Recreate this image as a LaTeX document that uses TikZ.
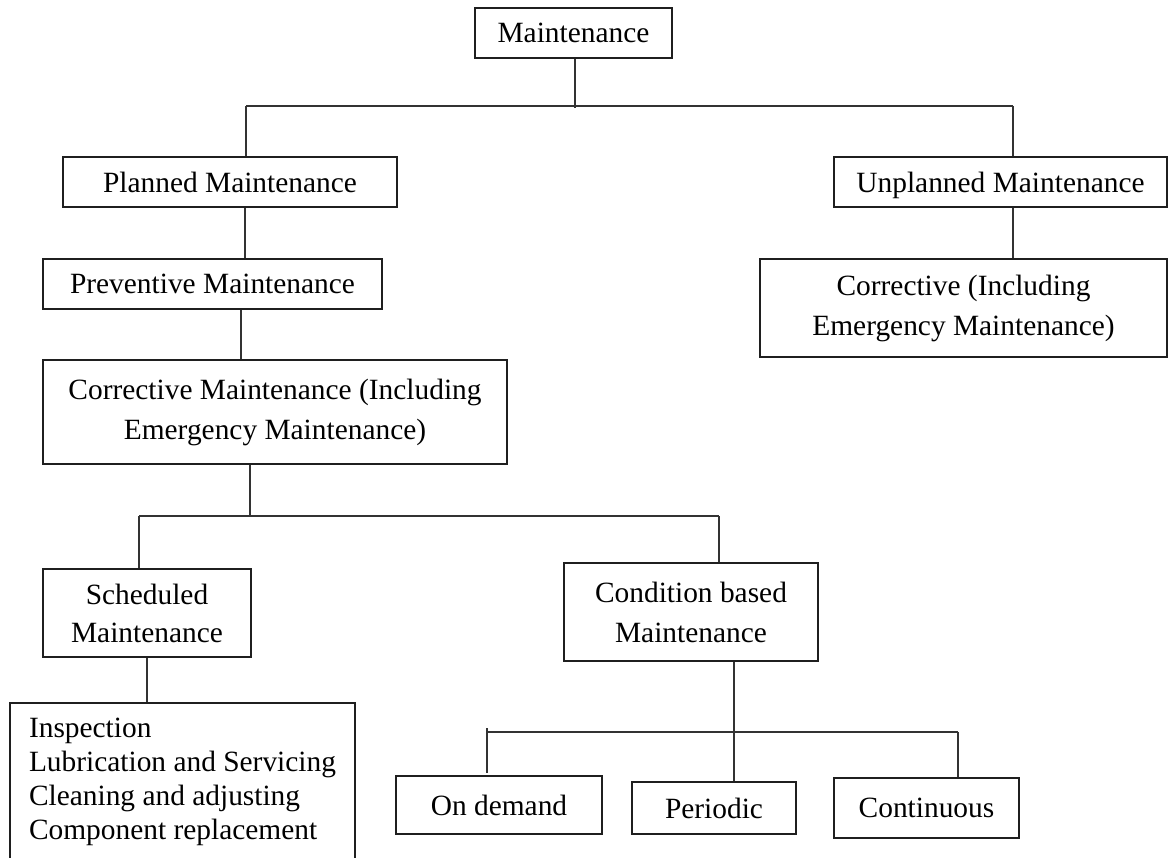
\documentclass[tikz,border=0pt]{standalone}
\usepackage{fontspec}
\setmainfont{Liberation Serif}
\begin{document}
\begin{tikzpicture}[x=1pt,y=-1pt,
  box/.style={draw=black!88, line width=1.4pt, inner sep=0pt, align=center,
    font=\fontsize{29.4}{40}\selectfont, text=black},
  conn/.style={draw=black!80, line width=1.1pt}]
\useasboundingbox (0,0) rectangle (1174,858);
\fill[white] (0,0) rectangle (1174,858);
% nodes
\node[box, minimum width=197, minimum height=50] (main) at (573.5,33) {Maintenance};
\node[box, minimum width=334, minimum height=50] (planned) at (230,182) {Planned Maintenance};
\node[box, minimum width=333, minimum height=50, text depth=0pt] (unplanned) at (1000.5,182) {Unplanned Maintenance};
\node[box, minimum width=339, minimum height=50] (prev) at (212.5,284) {Preventive Maintenance};
\node[box, minimum width=464, minimum height=104] (corr) at (275,412) {Corrective Maintenance (Including\\Emergency Maintenance)};
\node[box, minimum width=407, minimum height=98] (corr2) at (963.5,308) {Corrective (Including\\Emergency Maintenance)};
\node[box, minimum width=208, minimum height=88, font=\fontsize{29.4}{38}\selectfont] (sched) at (147,613) {Scheduled\\Maintenance};
\node[box, minimum width=345, minimum height=158, align=left, font=\fontsize{29.4}{34}\selectfont] (insp) at (182.5,782) {Inspection\\Lubrication and Servicing\\Cleaning and adjusting\\Component replacement};
\node[box, minimum width=254, minimum height=98] (cond) at (691,612) {Condition based\\Maintenance};
\node[box, minimum width=206, minimum height=58] (ondem) at (499,805) {On demand};
\node[box, minimum width=164, minimum height=52] (period) at (714,808) {Periodic};
\node[box, minimum width=185, minimum height=60] (cont) at (926.5,808) {Continuous};
% junction coordinates
\coordinate (t0) at (575,108);
\coordinate (hl) at (246,106);
\coordinate (hr) at (1013,106);
\coordinate (xa) at (245,0);
\coordinate (xb) at (241,0);
\coordinate (c0) at (250,516);
\coordinate (ml) at (139,516);
\coordinate (mr) at (719,516);
\coordinate (xc) at (734,0);
\coordinate (bl0) at (487,728);
\coordinate (bl) at (487,732);
\coordinate (bl1) at (487,773);
\coordinate (br) at (958,732);
% connectors
\draw[conn] (main.south -| t0) -- (t0);
\draw[conn] (hl) -- (hr);
\draw[conn] (hl) -- (hl |- planned.north);
\draw[conn] (hr) -- (hr |- unplanned.north);
\draw[conn] (unplanned.south -| hr) -- (corr2.north -| hr);
\draw[conn] (planned.south -| xa) -- (prev.north -| xa);
\draw[conn] (prev.south -| xb) -- (corr.north -| xb);
\draw[conn] (corr.south -| c0) -- (c0);
\draw[conn] (ml) -- (mr);
\draw[conn] (ml) -- (ml |- sched.north);
\draw[conn] (mr) -- (mr |- cond.north);
\draw[conn] (sched.south) -- (sched.south |- insp.north);
\draw[conn] (cond.south -| xc) -- (period.north -| xc);
\draw[conn] (bl) -- (br);
\draw[conn] (bl0) -- (bl1);
\draw[conn] (br) -- (br |- cont.north);
\end{tikzpicture}
\end{document}
